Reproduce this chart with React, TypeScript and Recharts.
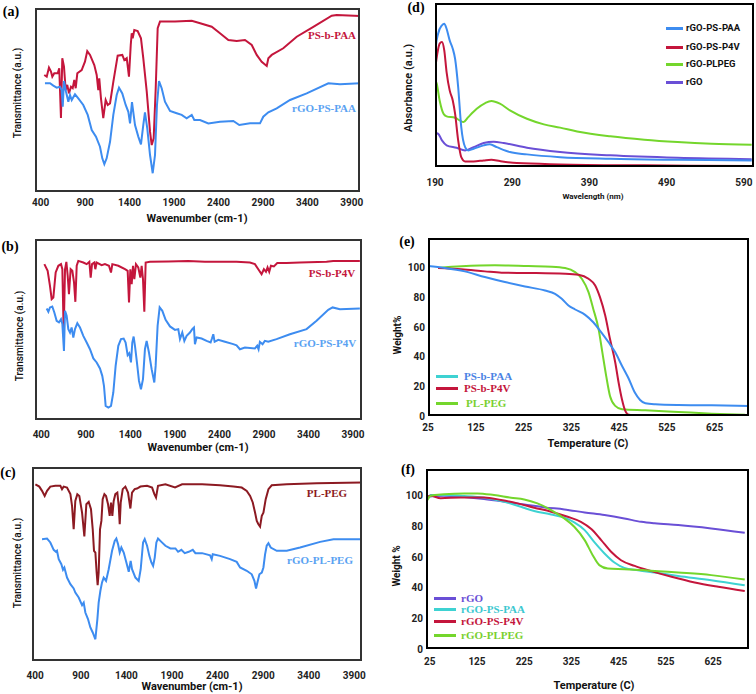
import React from "react";
import { LineChart, Line, XAxis, YAxis } from "recharts";

// axis ticks
const ftirTicks = [400, 900, 1400, 1900, 2400, 2900, 3400, 3900];
const uvTicks = [190, 290, 390, 490, 590];
const tempTicks = [25, 125, 225, 325, 425, 525, 625];
const weightTicks = [0, 20, 40, 60, 80, 100];

// (a) FTIR: wavenumber, transmittance (a.u.)
const psbPaaIr = [[440,63.6],[468,62.7],[493,67.6],[516,65.4],[531,62.7],[553,64.5],[591,64.5],[609,67.2],[628,40.2],[643,72.7],[662,68.1],[681,55.4],[699,58.2],[718,53.6],[741,57.2],[760,56.4],[778,60.9],[794,56.4],[812,64.5],[861,66.3],[898,70.8],[924,76.6],[955,74.5],[1003,69.0],[1030,63.6],[1048,55.4],[1059,61.8],[1078,50.9],[1104,40.1],[1131,50.0],[1154,47.3],[1180,48.2],[1217,59.9],[1266,74.1],[1318,74.5],[1341,71.7],[1368,72.7],[1393,62.7],[1413,79.9],[1424,86.3],[1435,83.5],[1453,88.0],[1491,87.5],[1528,83.5],[1554,72.7],[1593,54.5],[1630,32.8],[1649,25.5],[1671,29.2],[1694,56.4],[1716,89.0],[1742,92.6],[1911,92.6],[2099,93.1],[2194,91.7],[2324,89.8],[2417,86.3],[2511,82.6],[2605,82.1],[2698,82.6],[2774,79.9],[2830,74.5],[2886,70.8],[2943,68.5],[2961,72.7],[2999,74.5],[3129,78.1],[3280,84.4],[3467,89.8],[3674,95.8],[3730,96.2],[3992,95.7]];
const rgoPsPaaIr = [[448,59.1],[505,59.1],[542,57.8],[580,56.7],[617,57.2],[636,55.4],[648,46.4],[662,60.3],[685,54.5],[711,49.1],[730,52.7],[749,50.0],[786,53.1],[823,50.9],[879,47.3],[929,41.9],[974,33.7],[1022,30.1],[1067,24.6],[1093,18.3],[1116,15.1],[1142,18.3],[1180,27.3],[1217,41.9],[1255,52.7],[1281,56.7],[1318,53.6],[1356,47.3],[1386,43.6],[1405,37.3],[1427,48.8],[1461,36.4],[1498,30.1],[1528,25.9],[1554,36.4],[1573,43.3],[1599,34.6],[1630,20.1],[1660,10.2],[1686,20.1],[1708,47.3],[1731,60.3],[1761,56.4],[1798,49.1],[1855,44.0],[1930,42.8],[1986,41.9],[2042,40.1],[2099,41.9],[2128,39.1],[2192,39.1],[2286,37.3],[2417,38.2],[2567,38.6],[2634,36.4],[2755,37.3],[2867,37.3],[2904,40.9],[2961,43.3],[3055,45.5],[3205,50.0],[3392,53.6],[3636,59.1],[3767,58.5],[3992,59.1]];

// (b)
const psbP4vIr = [[435,86.1],[472,82.4],[498,74.1],[517,66.8],[536,67.7],[562,81.5],[592,85.2],[622,86.1],[637,83.3],[652,48.3],[667,83.3],[682,87.4],[697,79.7],[711,69.5],[730,83.3],[749,82.4],[768,76.0],[783,65.3],[798,85.2],[816,87.9],[872,87.0],[910,86.1],[940,87.4],[955,78.7],[970,86.1],[996,87.0],[1007,83.3],[1022,87.0],[1078,85.5],[1115,86.1],[1160,85.2],[1183,81.5],[1198,86.1],[1265,85.2],[1340,83.3],[1370,82.4],[1385,64.9],[1400,83.3],[1415,75.0],[1430,85.2],[1445,77.8],[1463,86.1],[1489,84.3],[1512,78.7],[1527,85.2],[1542,77.8],[1557,59.8],[1572,87.0],[1620,87.4],[1826,87.6],[2050,87.9],[2237,87.4],[2405,87.4],[2592,87.4],[2742,87.0],[2798,86.1],[2836,83.3],[2873,80.6],[2899,83.3],[2922,81.9],[2940,84.3],[2959,81.9],[2978,85.2],[3011,84.8],[3049,86.7],[3153,86.7],[3303,87.0],[3602,87.4],[3677,87.9],[3976,87.9]];
const rgoPsP4vIr = [[461,61.6],[480,59.8],[498,62.2],[524,62.7],[547,59.4],[573,54.8],[599,53.9],[622,55.7],[637,53.0],[655,38.2],[667,60.3],[685,57.6],[704,50.2],[723,48.3],[741,51.1],[760,45.6],[779,50.2],[805,53.5],[835,51.1],[872,46.5],[910,42.8],[947,39.1],[985,34.0],[1022,31.8],[1059,28.5],[1085,24.4],[1104,18.9],[1123,7.8],[1153,6.9],[1183,7.8],[1209,15.2],[1235,29.9],[1265,41.0],[1295,44.7],[1325,45.0],[1347,42.8],[1370,35.8],[1388,36.9],[1407,31.8],[1422,42.8],[1437,46.1],[1452,41.0],[1474,31.8],[1497,21.6],[1519,17.0],[1542,22.6],[1564,39.1],[1583,43.7],[1609,37.3],[1639,28.1],[1669,20.7],[1684,29.9],[1706,52.0],[1729,62.2],[1759,60.3],[1796,55.3],[1845,51.7],[1901,49.8],[1938,50.2],[1957,44.7],[1983,48.3],[2006,43.7],[2032,46.5],[2069,48.3],[2095,50.2],[2114,51.1],[2125,41.9],[2144,45.6],[2200,45.0],[2256,43.7],[2301,42.8],[2316,45.0],[2331,47.4],[2346,43.2],[2387,44.3],[2462,43.2],[2555,41.9],[2592,41.3],[2630,39.1],[2686,40.0],[2798,39.5],[2824,41.0],[2839,39.1],[2854,43.2],[2884,41.9],[2910,43.7],[2948,43.2],[3041,44.7],[3191,47.4],[3378,50.2],[3490,54.8],[3621,60.9],[3670,62.2],[3752,61.2],[3976,61.6]];

// (c)
const plPegIr = [[402,91.1],[445,89.9],[475,87.7],[504,85.1],[530,87.7],[566,89.9],[621,90.3],[676,90.3],[694,88.6],[712,89.9],[749,89.4],[786,86.0],[804,80.0],[822,67.9],[840,82.5],[862,86.0],[884,85.1],[914,76.5],[939,64.2],[961,80.8],[987,82.0],[1012,78.2],[1031,67.9],[1045,56.8],[1060,55.9],[1074,45.6],[1085,39.1],[1096,45.6],[1111,67.9],[1126,72.2],[1140,83.4],[1159,86.0],[1177,85.1],[1199,80.8],[1217,74.8],[1232,81.7],[1246,74.8],[1261,82.5],[1279,86.0],[1301,86.8],[1316,80.0],[1327,70.5],[1338,81.7],[1360,88.6],[1389,89.9],[1418,86.8],[1444,78.6],[1462,86.8],[1491,88.6],[1517,88.9],[1554,89.9],[1627,90.3],[1682,89.4],[1707,86.0],[1725,84.3],[1747,90.3],[1828,91.1],[1934,89.5],[2011,91.1],[2230,91.1],[2427,90.6],[2574,89.9],[2665,89.4],[2720,87.7],[2757,85.1],[2786,81.7],[2811,76.5],[2830,72.2],[2848,70.5],[2866,69.3],[2885,74.8],[2903,76.5],[2928,83.4],[2958,88.6],[2994,90.6],[3159,91.1],[3488,91.6],[3982,92.0]];
const rgoPlPegIr = [[475,62.8],[530,63.1],[566,61.1],[603,57.3],[628,56.3],[639,56.8],[658,52.5],[687,49.9],[705,47.0],[720,48.2],[749,43.0],[786,39.6],[822,37.4],[840,35.3],[877,32.7],[914,28.8],[932,30.1],[950,25.0],[979,21.6],[1005,17.3],[1031,14.7],[1060,11.2],[1082,21.6],[1096,30.1],[1115,36.2],[1133,40.5],[1151,43.0],[1177,41.3],[1206,47.3],[1243,56.8],[1272,61.9],[1290,63.1],[1309,60.2],[1327,55.9],[1345,58.5],[1371,55.9],[1400,50.8],[1426,46.0],[1447,51.6],[1462,47.3],[1499,43.0],[1535,41.3],[1557,47.3],[1583,61.1],[1601,62.8],[1627,59.4],[1652,54.2],[1674,50.8],[1693,49.0],[1711,53.3],[1729,61.1],[1747,63.1],[1784,61.4],[1828,59.4],[1883,58.0],[1938,58.0],[1967,56.3],[2003,57.3],[2040,55.6],[2084,56.3],[2128,57.3],[2157,55.6],[2230,55.6],[2318,54.5],[2336,52.5],[2347,55.0],[2427,54.2],[2537,52.5],[2610,51.1],[2647,48.2],[2720,46.5],[2775,44.7],[2804,41.3],[2822,37.4],[2837,40.5],[2859,44.7],[2885,45.6],[2903,48.2],[2921,55.0],[2939,59.4],[2958,60.7],[2983,58.5],[3049,56.8],[3159,56.8],[3305,58.5],[3525,61.4],[3671,62.8],[3982,62.8]];

// (d) UV-vis: wavelength (nm), absorbance (a.u.)
const uvPsPaa = [[190,66.0],[191,73.1],[194,81.3],[199,86.4],[202,87.4],[205,84.3],[209,77.2],[213,72.1],[216,66.0],[220,48.7],[224,24.3],[229,12.1],[233,10.1],[240,11.1],[253,13.2],[261,13.8],[270,12.1],[287,9.1],[309,7.7],[352,6.0],[417,5.0],[504,4.4],[600,4.0]];
const uvPsP4v = [[190,58.9],[193,69.1],[196,75.2],[199,76.2],[202,71.1],[205,57.9],[209,46.7],[213,40.6],[216,32.5],[220,16.2],[224,6.0],[229,3.4],[240,3.4],[253,4.0],[263,4.4],[274,3.6],[296,2.4],[352,1.6],[461,1.0],[600,0.6]];
const uvPlPeg = [[190,52.8],[192,51.2],[196,40.6],[201,32.5],[205,30.9],[216,30.0],[222,28.4],[227,27.4],[233,30.4],[244,35.5],[255,39.0],[263,40.2],[274,38.6],[287,34.5],[309,29.4],[331,26.0],[352,24.0],[374,21.7],[417,18.7],[461,16.6],[504,15.2],[548,14.2],[600,13.6]];
const uvRgo = [[190,20.7],[194,20.3],[199,16.2],[205,13.2],[218,11.7],[229,10.1],[240,12.1],[253,14.6],[266,15.4],[279,14.6],[309,11.7],[352,9.1],[417,7.1],[504,5.6],[600,4.8]];

// (e) TGA: temperature (C), weight %
const tgaPsbPaa = [[25,101.1],[60,99.8],[102,97.5],[144,93.7],[186,90.3],[228,87.3],[270,84.6],[291,82.4],[305,79.0],[319,74.5],[333,71.8],[354,68.2],[371,63.2],[385,57.6],[403,49.7],[417,42.9],[431,33.9],[445,25.3],[458,15.8],[469,10.8],[480,8.6],[501,7.9],[549,7.4],[619,7.2],[696,6.8]];
const tgaPsbP4v = [[46,99.8],[95,98.9],[144,97.5],[179,96.6],[235,96.4],[312,95.9],[340,95.2],[361,92.5],[375,88.0],[385,80.1],[396,67.7],[406,51.9],[417,36.1],[424,22.6],[431,11.3],[438,3.4],[445,0.9],[480,0],[619,0],[689,0.2]];
const tgaPlPeg = [[46,99.8],[95,100.9],[165,101.6],[235,101.1],[284,100.7],[312,99.8],[333,97.0],[347,92.5],[361,83.5],[371,72.2],[382,58.7],[390,42.9],[398,27.1],[406,13.5],[417,6.8],[431,4.5],[480,3.8],[549,2.7],[619,1.6],[689,0.9]];

// (f)
const tgaRgo = [[20,99.4],[55,100],[98,99.1],[140,97.8],[183,96.1],[225,94.3],[268,92.4],[310,91.1],[353,89.1],[395,87.4],[437,85.2],[473,83.0],[501,82.0],[551,80.9],[621,78.7],[692,75.9]];
const tgaRgoPsPaa = [[20,98.3],[27,100.4],[55,100.4],[98,99.8],[140,98.7],[183,96.1],[218,92.8],[246,90.0],[282,87.8],[310,85.7],[331,82.6],[353,77.6],[374,69.6],[395,62.4],[416,56.5],[437,53.0],[466,51.5],[501,50.0],[551,47.8],[621,45.0],[692,41.7]];
const tgaRgoPsP4v = [[20,99.4],[27,100],[48,98.3],[91,98.9],[140,98.9],[176,97.2],[211,95.0],[246,92.2],[282,89.6],[317,86.3],[345,83.0],[367,78.3],[388,71.1],[409,63.5],[430,58.0],[459,54.3],[494,50.9],[537,47.2],[586,43.5],[636,40.7],[692,38.0]];
const tgaRgoPlPeg = [[20,97.2],[27,100],[55,100.9],[98,101.5],[126,101.5],[161,100.4],[197,98.7],[225,97.6],[253,95.0],[282,90.7],[310,85.2],[331,79.8],[353,71.1],[370,61.3],[384,54.8],[402,52.6],[437,52.2],[480,51.5],[551,50.0],[621,48.3],[692,45.4]];

const RED = "#c4163c";
const BLUE = "#3d8cf0";
const MAROON = "#8c1a22";
const GREEN = "#74d62c";
const PURPLE = "#6a4fd6";
const CYAN = "#3ed2d2";

const tickFont = { fontFamily: "Roboto, sans-serif", fontWeight: 700, fontSize: 10, fill: "#222" };
const PAD = 20;

function Panel({ l, t, w, h, xDomain, yDomain, xTicks, yTicks, xGap, curve, series, frame }: any) {
  const yW = yTicks ? 40 : 0;
  return (
    <div style={{ position: "absolute", left: l - yW - PAD, top: t }}>
      <LineChart width={w + yW + 2 * PAD} height={h + 30} margin={{ top: 0, right: PAD, left: PAD, bottom: 0 }}>
        <XAxis type="number" dataKey="x" domain={xDomain} ticks={xTicks} interval={0} allowDataOverflow
          axisLine={false} tickLine={false} tickSize={xGap} tickMargin={0} height={30} tick={tickFont} />
        <YAxis type="number" dataKey="y" domain={yDomain} ticks={yTicks} interval={0} allowDataOverflow hide={!yTicks}
          width={yW} axisLine={false} tickLine={false} tickSize={3} tickMargin={0} tick={tickFont} />
        {series.map((s: any) => (
          <Line key={s.name} name={s.name} data={s.pts.map(([x, y]: number[]) => ({ x, y }))} dataKey="y"
            type={curve} dot={false} stroke={s.color} strokeWidth={s.width ?? 2} isAnimationActive={false} />
        ))}
      </LineChart>
      <div style={{ position: "absolute", left: yW + PAD, top: 0, width: w, height: h, boxSizing: "border-box",
        border: `2px solid ${frame}`, pointerEvents: "none" }} />
    </div>
  );
}

function Txt({ x, y, children, rot, s }: any) {
  return (
    <div style={{ position: "absolute", left: x, top: y, whiteSpace: "nowrap", lineHeight: 1,
      transform: `translate(-50%, -50%)${rot ? " rotate(-90deg)" : ""}`, ...s }}>{children}</div>
  );
}

const sans = (size: number, weight = 700) => ({ fontFamily: "Roboto, sans-serif", fontSize: size, fontWeight: weight, color: "#111" });
const serif = (size: number, color = "#000") => ({ fontFamily: "'Liberation Serif', serif", fontSize: size, fontWeight: 700, color });

function LegendRow({ x, y, color, label, lineW, textX, s }: any) {
  return (
    <>
      <div style={{ position: "absolute", left: x, top: y - 1.5, width: lineW, height: 3, background: color }} />
      <div style={{ position: "absolute", left: textX, top: y, transform: "translateY(-50%)", whiteSpace: "nowrap", lineHeight: 1, ...s }}>{label}</div>
    </>
  );
}

export default function App() {
  return (
    <div style={{ position: "absolute", left: 0, top: 0, width: 756, height: 694, background: "#fff", overflow: "hidden" }}>
      {/* (a) */}
      <Panel l={35} t={8} w={325} h={184} xDomain={[336, 3992]} yDomain={[0, 100]} xTicks={ftirTicks} xGap={7}
        curve="linear" frame="#333" series={[
          { name: "PS-b-PAA", color: RED, pts: psbPaaIr },
          { name: "rGO-PS-PAA", color: BLUE, pts: rgoPsPaaIr },
        ]} />
      <Txt x={11} y={12} s={serif(14)}>(a)</Txt>
      <Txt x={18} y={93} rot s={sans(10, 500)}>Transmittance (a.u.)</Txt>
      <Txt x={197} y={218} s={sans(11)}>Wavenumber (cm-1)</Txt>
      <Txt x={332} y={35} s={serif(11, RED)}>PS-b-PAA</Txt>
      <Txt x={324} y={108} s={serif(11, "#5aa2f2")}>rGO-PS-PAA</Txt>

      {/* (b) */}
      <Panel l={35} t={238.5} w={327} h={181} xDomain={[330, 4000]} yDomain={[0, 100]} xTicks={ftirTicks} xGap={11}
        curve="linear" frame="#333" series={[
          { name: "PS-b-P4V", color: RED, pts: psbP4vIr },
          { name: "rGO-PS-P4V", color: BLUE, pts: rgoPsP4vIr },
        ]} />
      <Txt x={10} y={247} s={serif(14)}>(b)</Txt>
      <Txt x={20} y={336} rot s={sans(10, 500)}>Transmittance (a.u.)</Txt>
      <Txt x={198} y={447} s={sans(11)}>Wavenumber (cm-1)</Txt>
      <Txt x={332} y={273} s={serif(11, RED)}>PS-b-P4V</Txt>
      <Txt x={325} y={343} s={serif(11, "#5aa2f2")}>rGO-PS-P4V</Txt>

      {/* (c) */}
      <Panel l={32} t={466.5} w={330} h={194} xDomain={[365, 3984]} yDomain={[0, 100]} xTicks={ftirTicks} xGap={11}
        curve="linear" frame="#333" series={[
          { name: "PL-PEG", color: MAROON, pts: plPegIr },
          { name: "rGO-PL-PEG", color: BLUE, pts: rgoPlPegIr },
        ]} />
      <Txt x={8} y={473} s={serif(14)}>(c)</Txt>
      <Txt x={18} y={563} rot s={sans(10, 500)}>Transmittance (a.u.)</Txt>
      <Txt x={192} y={686} s={sans(11)}>Wavenumber (cm-1)</Txt>
      <Txt x={327} y={493} s={serif(11, MAROON)}>PL-PEG</Txt>
      <Txt x={320} y={560} s={serif(11, "#5aa2f2")}>rGO-PL-PEG</Txt>

      {/* (d) */}
      <Panel l={435} t={3} w={319} h={164} xDomain={[190, 603]} yDomain={[0, 100]} xTicks={uvTicks} xGap={12}
        curve="monotone" frame="#000" series={[
          { name: "rGO", color: PURPLE, pts: uvRgo },
          { name: "rGO-PLPEG", color: GREEN, pts: uvPlPeg },
          { name: "rGO-PS-P4V", color: RED, pts: uvPsP4v },
          { name: "rGO-PS-PAA", color: BLUE, pts: uvPsPaa },
        ]} />
      <Txt x={416} y={8} s={serif(14)}>(d)</Txt>
      <Txt x={408} y={88} rot s={sans(11, 600)}>Absorbance (a.u.)</Txt>
      <Txt x={593} y={197} s={sans(8)}>Wavelength (nm)</Txt>
      <LegendRow x={666} y={28} lineW={17} textX={686} color={BLUE} label="rGO-PS-PAA" s={sans(9.5)} />
      <LegendRow x={666} y={47} lineW={17} textX={686} color={RED} label="rGO-PS-P4V" s={sans(9.5)} />
      <LegendRow x={666} y={64} lineW={17} textX={686} color={GREEN} label="rGO-PLPEG" s={sans(9.5)} />
      <LegendRow x={666} y={82} lineW={17} textX={686} color={PURPLE} label="rGO" s={sans(9.5)} />

      {/* (e) */}
      <Panel l={428} t={238} w={321} h={178} xDomain={[25, 697]} yDomain={[0, 120]} xTicks={tempTicks} yTicks={weightTicks}
        xGap={8} curve="monotone" frame="#000" series={[
          { name: "PL-PEG", color: GREEN, pts: tgaPlPeg },
          { name: "PS-b-P4V", color: RED, pts: tgaPsbP4v },
          { name: "PS-b-PAA", color: BLUE, pts: tgaPsbPaa },
        ]} />
      <Txt x={407} y={242} s={serif(14)}>(e)</Txt>
      <Txt x={398} y={335} rot s={sans(10)}>Weight%</Txt>
      <Txt x={588} y={443} s={sans(11)}>Temperature (C)</Txt>
      <LegendRow x={436} y={376} lineW={22} textX={464} color={CYAN} label="PS-b-PAA" s={serif(11, "#4a82e4")} />
      <LegendRow x={436} y={388} lineW={22} textX={464} color={RED} label="PS-b-P4V" s={serif(11, RED)} />
      <LegendRow x={436} y={403} lineW={22} textX={466} color={GREEN} label="PL-PEG" s={serif(11, "#7ad030")} />

      {/* (f) */}
      <Panel l={426} t={469} w={323} h={180.3} xDomain={[17, 701]} yDomain={[0, 117.4]} xTicks={tempTicks} yTicks={weightTicks}
        xGap={9} curve="monotone" frame="#000" series={[
          { name: "rGO", color: PURPLE, pts: tgaRgo },
          { name: "rGO-PS-PAA", color: CYAN, pts: tgaRgoPsPaa },
          { name: "rGO-PS-P4V", color: RED, pts: tgaRgoPsP4v },
          { name: "rGO-PLPEG", color: GREEN, pts: tgaRgoPlPeg },
        ]} />
      <Txt x={408} y={470} s={serif(14)}>(f)</Txt>
      <Txt x={397} y={566} rot s={sans(10)}>Weight %</Txt>
      <Txt x={594} y={685} s={sans(11)}>Temperature (C)</Txt>
      <LegendRow x={434} y={598} lineW={22} textX={461} color={PURPLE} label="rGO" s={serif(11, PURPLE)} />
      <LegendRow x={434} y={609} lineW={22} textX={461} color={CYAN} label="rGO-PS-PAA" s={serif(11, "#3cc8d0")} />
      <LegendRow x={434} y={621} lineW={22} textX={461} color={RED} label="rGO-PS-P4V" s={serif(11, RED)} />
      <LegendRow x={434} y={635} lineW={22} textX={461} color={GREEN} label="rGO-PLPEG" s={serif(11, "#7ad030")} />
    </div>
  );
}
